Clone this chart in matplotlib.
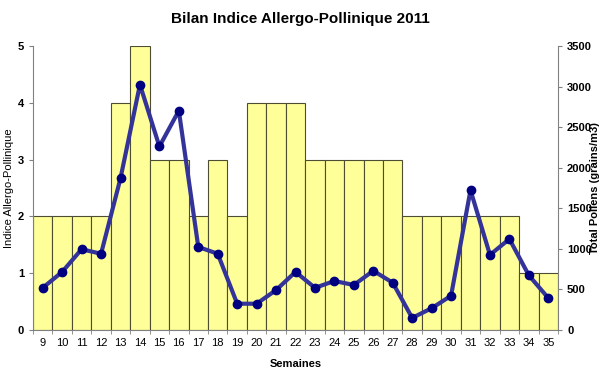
import matplotlib
matplotlib.use("Agg")
import matplotlib.pyplot as plt
import numpy as np

plt.rcParams['font.family'] = ['Liberation Sans', 'DejaVu Sans']

weeks = list(range(9, 36))
indice = [2, 2, 2, 2, 4, 5, 3, 3, 2, 3, 2, 4, 4, 4, 3, 3, 3, 3, 3, 2, 2, 2, 2, 2, 2, 1, 1]
pollens = [518, 714, 994, 938, 1869, 3024, 2261, 2702, 1022, 938, 322, 322, 490, 714,
           518, 602, 553, 728, 581, 147, 266, 420, 1722, 924, 1120, 672, 392]

fig = plt.figure(figsize=(6.0, 3.71), dpi=100)
ax = fig.add_axes([0.055, 0.111, 0.875, 0.765])
ax.bar(weeks, indice, width=1.0, color='#FFFF99', edgecolor='#4d4d33', linewidth=0.8, zorder=2)
ax.set_xlim(8.5, 35.5)
ax.set_ylim(0, 5)
ax.set_yticks(range(0, 6))
ax.set_xticks(weeks)
ax.set_xticklabels([str(w) for w in weeks], fontsize=8)
ax.set_xticks(np.arange(8.5, 36, 1.0), minor=True)
ax.tick_params(axis='x', which='major', length=0, pad=6)
ax.tick_params(axis='x', which='minor', length=3, direction='out', color='#808080')
ax.tick_params(axis='y', length=3, direction='out', color='#808080', labelsize=8)
for lbl in ax.get_yticklabels():
    lbl.set_fontweight('bold')
ax.set_ylabel('Indice Allergo-Pollinique', fontsize=8)
ax.yaxis.set_label_coords(-0.036, 0.5)
ax.set_xlabel('Semaines', fontsize=8, fontweight='bold', labelpad=8)
for s in ['top', 'right']:
    ax.spines[s].set_visible(False)
for s in ['left', 'bottom']:
    ax.spines[s].set_color('#808080')

ax2 = ax.twinx()
ax2.plot(weeks, pollens, color='#333399', linewidth=3, marker='o', markersize=6,
         markerfacecolor='#000080', markeredgecolor='#000080', zorder=3)
ax2.set_ylim(0, 3500)
ax2.set_yticks(range(0, 3501, 500))
ax2.tick_params(axis='y', length=3, direction='out', color='#808080', labelsize=8)
for lbl in ax2.get_yticklabels():
    lbl.set_fontweight('bold')
ax2.set_ylabel('Total Pollens (grains/m3)', fontsize=8, fontweight='bold')
ax2.yaxis.set_label_coords(1.061, 0.5)
for s in ['top', 'left', 'bottom']:
    ax2.spines[s].set_visible(False)
ax2.spines['right'].set_color('#808080')

fig.text(0.5, 0.95, 'Bilan Indice Allergo-Pollinique 2011', ha='center', va='center',
         fontsize=11, fontweight='bold')

fig.savefig('out.png', dpi=100)
